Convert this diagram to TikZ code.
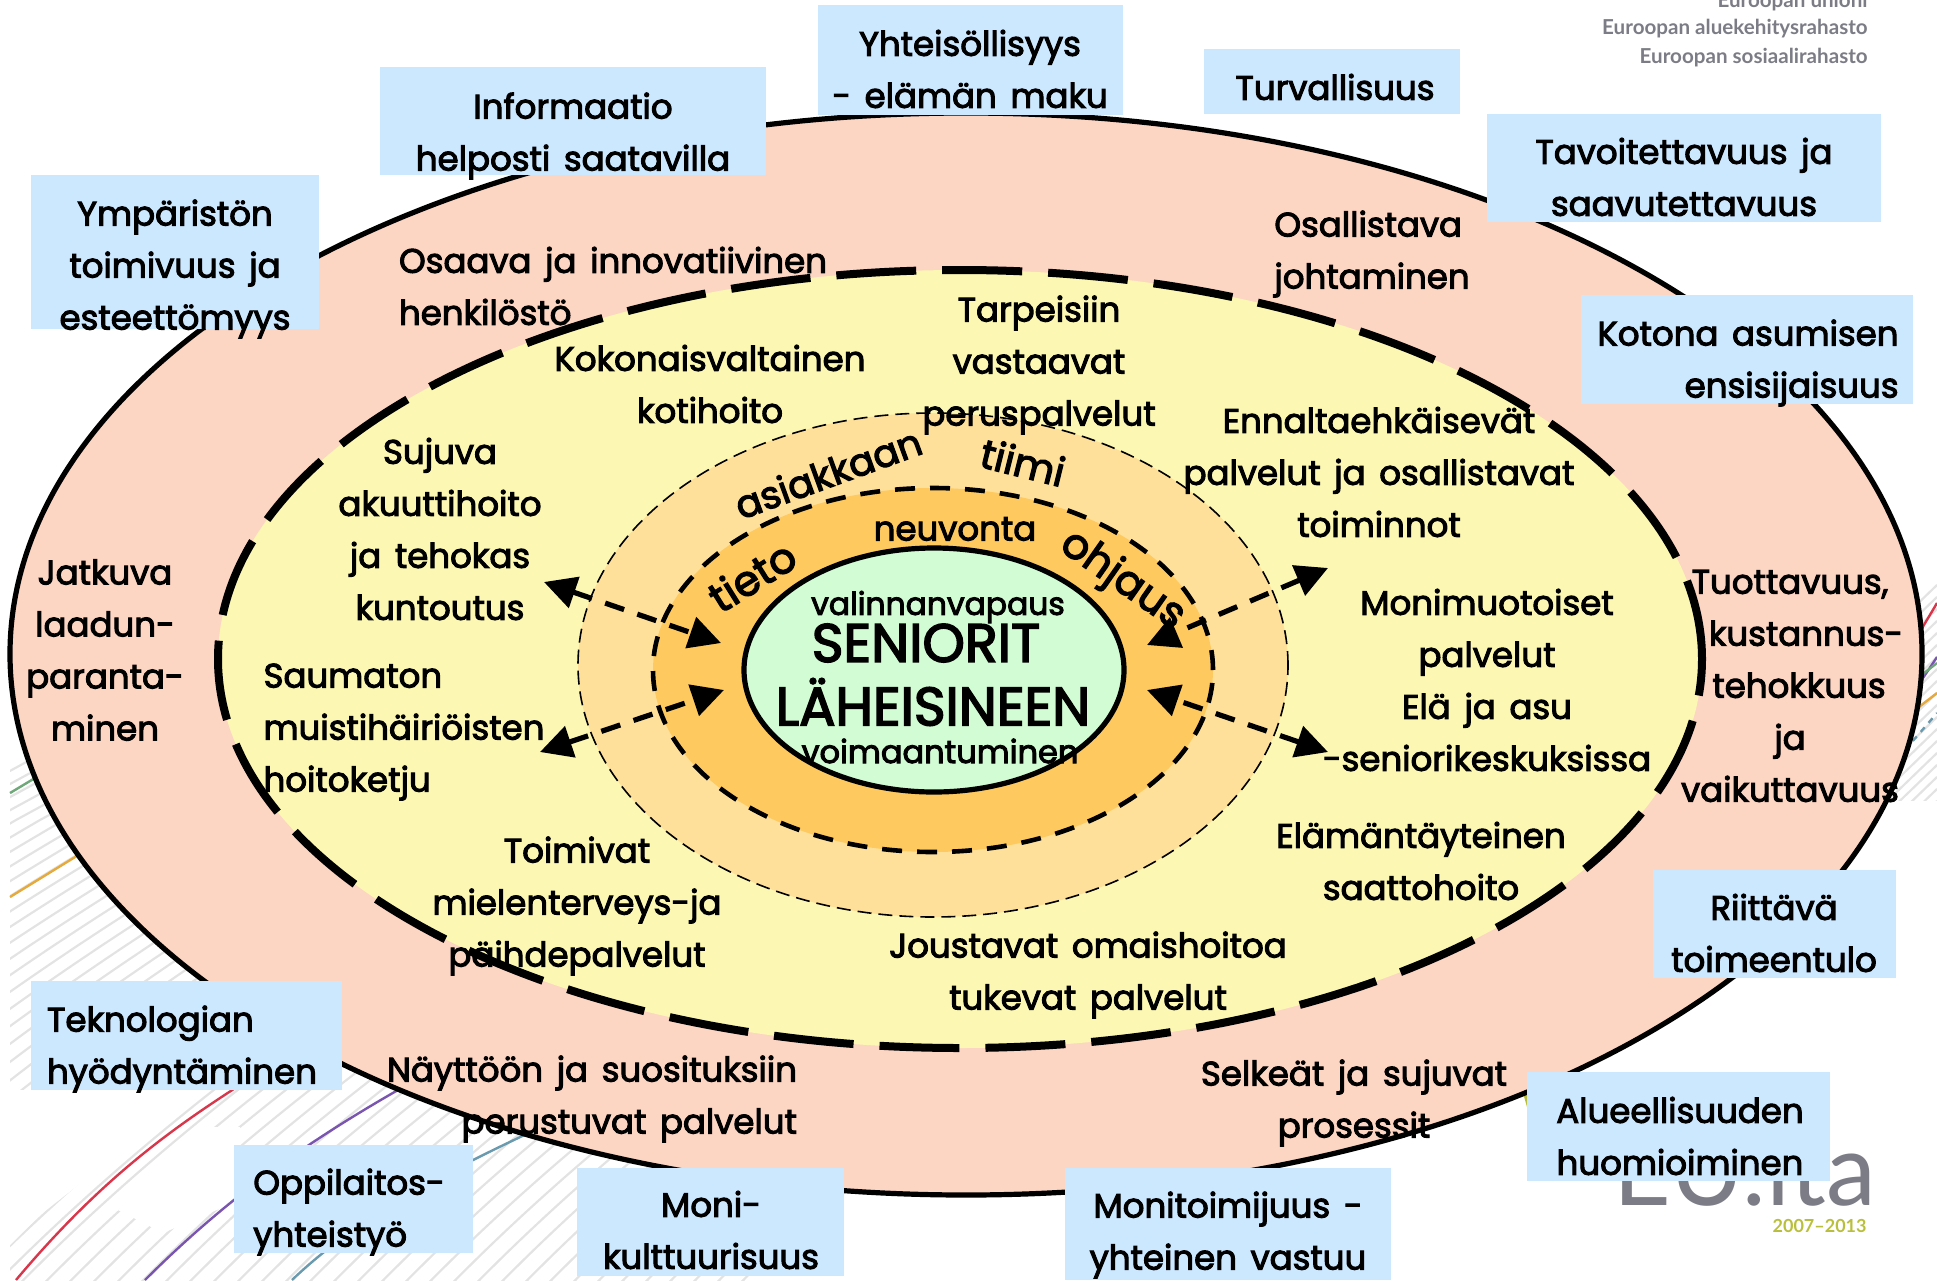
\documentclass[tikz,border=0pt]{standalone}
\usepackage{fontspec}
\setmainfont{Poppins}[FakeBold=3,WordSpace=1.5]
\newfontfamily\logofont{Lato}
\usetikzlibrary{arrows.meta, shapes.geometric}

\tikzset{
    ring/.style={ellipse, inner sep=0pt, outer sep=0pt},
    bluebox/.style={fill=boxblue, inner sep=0pt, outer sep=0pt},
    txt/.style={align=center, inner sep=0pt, font=\fontsize{17}{26}\selectfont},
    logotxt/.style={anchor=base east, inner sep=0pt, text=logogrey, font=\logofont\bfseries\fontsize{10.3}{12}\selectfont},
    twoway/.style={{Triangle[length=16pt,width=16pt]}-{Triangle[length=16pt,width=16pt]}, line width=2.6pt, dash pattern=on 10pt off 7pt},
    stripe/.style={draw=black!11, line width=1.1pt},
    curve/.style={line width=1.2pt}
}
\definecolor{boxblue}{HTML}{CCE8FF}
\definecolor{peach}{HTML}{FDD5C3}
\definecolor{lemon}{HTML}{FCF8B3}
\definecolor{sand}{HTML}{FEE09A}
\definecolor{amber}{HTML}{FEC95F}
\definecolor{mint}{HTML}{D2FCD4}
\definecolor{logogrey}{HTML}{7C7C86}
\definecolor{olive}{HTML}{B9BF3C}
\definecolor{curvered}{HTML}{D8364A}
\definecolor{curvepurple}{HTML}{7A55B0}
\definecolor{curveteal}{HTML}{6A9AAE}
\definecolor{curvegreen}{HTML}{6FA878}
\definecolor{curveorange}{HTML}{E6A93C}

\begin{document}
\begin{tikzpicture}[x=0.5pt,y=-0.5pt]
    \useasboundingbox (0,0) rectangle (1937,1280);

    % Striped background, bottom left
    \begin{scope}
        \clip (10,760) rectangle (1000,1280);
        \foreach \s in {-840,-816,...,720}
            \draw[stripe,xshift=\s*0.5pt] (-60,1370) .. controls (100,1185) and (330,1000) .. (640,820) -- (860,700);
    \end{scope}
    % White gaps in the stripes
    \fill[white] (10,1090) -- (200,1090) -- (40,1215) -- (10,1245) -- cycle;
    \fill[white] (118,1210) -- (204,1127) -- (240,1127) -- (240,1200) -- (163,1233) -- cycle;
    \draw[curve,curvered] (16,1280) .. controls (100,1180) and (170,1130) .. (240,1085);
    \draw[curve,curvepurple] (145,1280) .. controls (230,1195) and (310,1140) .. (405,1086);
    \draw[curve,curveteal] (292,1280) .. controls (360,1215) and (450,1170) .. (535,1130);
    \draw[curve,curvegreen] (10,793) -- (40,775);
    \draw[curve,curveorange] (10,897) -- (80,854);

    % Striped background, right edge
    \begin{scope}
        \clip (1880,580) rectangle (1937,800);
        \foreach \s in {-120,-108,...,120}
            \draw[stripe] (1880,760+\s) -- (1937,705+\s);
        \draw[curve,curvered] (1915,640) -- (1937,603);
        \draw[curve,curvepurple] (1915,690) -- (1937,657);
        \draw[curve,curvegreen] (1915,680) -- (1937,663);
        \draw[curve,curveorange] (1915,710) -- (1937,693);
        \draw[curve,curveteal,dashed] (1905,750) -- (1937,713);
    \end{scope}

    % Logo texts
    \node[logotxt] (unioni) at (1868,7) {Euroopan unioni};
    \node[logotxt] (erdf) at (1868,34) {Euroopan aluekehitysrahasto};
    \node[logotxt] (esr) at (1868,63) {Euroopan sosiaalirahasto};
    \node[logotxt,font=\logofont\fontsize{50}{50}\selectfont] (euita) at (1876,1205) {EU.ita};
    \node[logotxt,text=olive,font=\logofont\bfseries\fontsize{9}{10}\selectfont] (years) at (1867,1232) {2007–2013};
    \fill[olive] (1521,1086) -- (1529,1086) -- (1529,1114) -- cycle;

    % Rings, outside in
    \node[ring,draw=black,line width=2.6pt,fill=peach,minimum width=956pt,minimum height=541pt] (outerRing) at (966,654) {};
    \node[ring,draw=black,line width=4pt,fill=lemon,dash pattern=on 40pt off 13pt,minimum width=742pt,minimum height=389pt] (servicesRing) at (960,659) {};
    \node[ring,draw=black,line width=0.8pt,fill=sand,dash pattern=on 7pt off 3.5pt,minimum width=355pt,minimum height=252pt] (teamRing) at (933,665) {};
    \node[ring,draw=black,line width=2.3pt,fill=amber,dash pattern=on 10pt off 7.5pt,minimum width=280pt,minimum height=182pt] (adviceRing) at (933,670) {};
    \node[ring,draw=black,line width=2.6pt,fill=mint,minimum width=190pt,minimum height=122pt] (coreRing) at (934,670) {};

    % Arrows
    \coordinate (upLeftOut) at (544,582);
    \coordinate (upLeftIn) at (721,643);
    \coordinate (lowLeftOut) at (540,752);
    \coordinate (lowLeftIn) at (724,690);
    \coordinate (upRightOut) at (1328,568);
    \coordinate (upRightIn) at (1147,645);
    \coordinate (lowRightOut) at (1328,752);
    \coordinate (lowRightIn) at (1147,690);
    \draw[twoway] (upLeftOut) -- (upLeftIn);
    \draw[twoway] (lowLeftOut) -- (lowLeftIn);
    \draw[twoway] (upRightOut) -- (upRightIn);
    \draw[twoway] (lowRightOut) -- (lowRightIn);

    % Blue boxes
    \node[bluebox,minimum width=152.5pt,minimum height=55pt] (communityBox) at (970.5,60) {};
    \node[bluebox,minimum width=128pt,minimum height=32.5pt] (safetyBox) at (1332,81.5) {};
    \node[bluebox,minimum width=193pt,minimum height=54pt] (infoBox) at (573,121) {};
    \node[bluebox,minimum width=144pt,minimum height=77pt] (accessBox) at (175,252) {};
    \node[bluebox,minimum width=197pt,minimum height=54pt] (reachBox) at (1684,168) {};
    \node[bluebox,minimum width=166pt,minimum height=54.5pt] (homeBox) at (1747,349.5) {};
    \node[bluebox,minimum width=121.5pt,minimum height=54pt] (incomeBox) at (1774.5,924) {};
    \node[bluebox,minimum width=151.5pt,minimum height=54.5pt] (regionBox) at (1678.5,1126.5) {};
    \node[bluebox,minimum width=155.5pt,minimum height=54.5pt] (techBox) at (186.5,1035.5) {};
    \node[bluebox,minimum width=119.5pt,minimum height=54pt] (schoolBox) at (353.5,1199) {};
    \node[bluebox,minimum width=133.5pt,minimum height=54pt] (cultureBox) at (710.5,1222) {};
    \node[bluebox,minimum width=163pt,minimum height=56pt] (actorsBox) at (1228,1224) {};

    % Box texts
    \node[txt] (community) at (970,69) {Yhteisöllisyys\\- elämän maku};
    \node[txt] (safety) at (1335,87) {Turvallisuus};
    \node[txt] (info) at (573,136) {Informaatio\\helposti saatavilla};
    \node[txt] (access) at (175,269) {Ympäristön\\toimivuus ja\\esteettömyys};
    \node[txt] (reach) at (1684,177) {Tavoitettavuus ja\\saavutettavuus};
    \node[txt,align=right] (home) at (1748,363) {Kotona asumisen\\ensisijaisuus};
    \node[txt] (income) at (1774,933) {Riittävä\\toimeentulo};
    \node[txt] (region) at (1680,1136) {Alueellisuuden\\huomioiminen};
    \node[txt,align=left] (tech) at (182,1049) {Teknologian\\hyödyntäminen};
    \node[txt,align=left] (school) at (349,1212) {Oppilaitos-\\yhteistyö};
    \node[txt] (culture) at (711,1230) {Moni-\\kulttuurisuus};
    \node[txt] (actors) at (1228,1235) {Monitoimijuus -\\yhteinen vastuu};

    % Outer ring texts
    \node[txt,align=left] (staff) at (613,286) {Osaava ja innovatiivinen\\henkilöstö};
    \node[txt,align=left] (leading) at (1372,254) {Osallistava\\johtaminen};
    \node[txt] (quality) at (105,650) {Jatkuva\\laadun-\\paranta-\\minen};
    \node[txt] (results) at (1790,686) {Tuottavuus,\\\hspace*{16pt}kustannus-\\\hspace*{9pt}tehokkuus\\ja\\vaikuttavuus};
    \node[txt,align=right] (evidence) at (592,1099) {Näyttöön ja suosituksiin\\perustuvat palvelut};
    \node[txt] (process) at (1354,1103) {Selkeät ja sujuvat\\prosessit};

    % Service ring texts
    \node[txt] (homecare) at (710,384) {Kokonaisvaltainen\\kotihoito};
    \node[txt] (basic) at (1039,365) {Tarpeisiin\\vastaavat\\peruspalvelut};
    \node[txt] (prevent) at (1379,472) {Ennaltaehkäisevät\\palvelut ja osallistavat\\toiminnot};
    \node[txt] (acute) at (440,529) {Sujuva\\akuuttihoito\\ja tehokas\\kuntoutus};
    \node[txt,align=left] (memory) at (404,732) {Saumaton\\muistihäiriöisten\\hoitoketju};
    \node[txt] (diverse) at (1487,680) {Monimuotoiset\\palvelut\\Elä ja asu\\-seniorikeskuksissa};
    \node[txt] (mental) at (577,906) {Toimivat\\mielenterveys-ja\\päihdepalvelut};
    \node[txt] (hospice) at (1421,861) {Elämäntäyteinen\\saattohoito};
    \node[txt] (carers) at (1088,975) {Joustavat omaishoitoa\\tukevat palvelut};

    % Inner texts
    \node[txt,font=\fontsize{19}{26}\selectfont,rotate=20] (client) at (828,473) {asiakkaan};
    \node[txt,font=\fontsize{20}{26}\selectfont,rotate=-14] (team) at (1023,462) {tiimi};
    \node[txt] (advice) at (955,529) {neuvonta};
    \node[txt,font=\fontsize{21}{26}\selectfont,rotate=32] (knowledge) at (752,576) {tieto};
    \node[txt,font=\fontsize{21}{26}\selectfont,rotate=-35] (guidance) at (1122,581) {ohjaus};
    \node[txt,font=\fontsize{15.7}{18}\selectfont] (choice) at (938,607) {valinnanvapaus};
    \node[txt,font=\fontsize{27}{30}\selectfont] (seniors) at (926,643) {SENIORIT};
    \node[txt,font=\fontsize{27}{30}\selectfont] (families) at (933,702) {LÄHEISINEEN};
    \node[txt,font=\fontsize{16}{18}\selectfont] (power) at (940,751) {voimaantuminen};
\end{tikzpicture}
\end{document}
